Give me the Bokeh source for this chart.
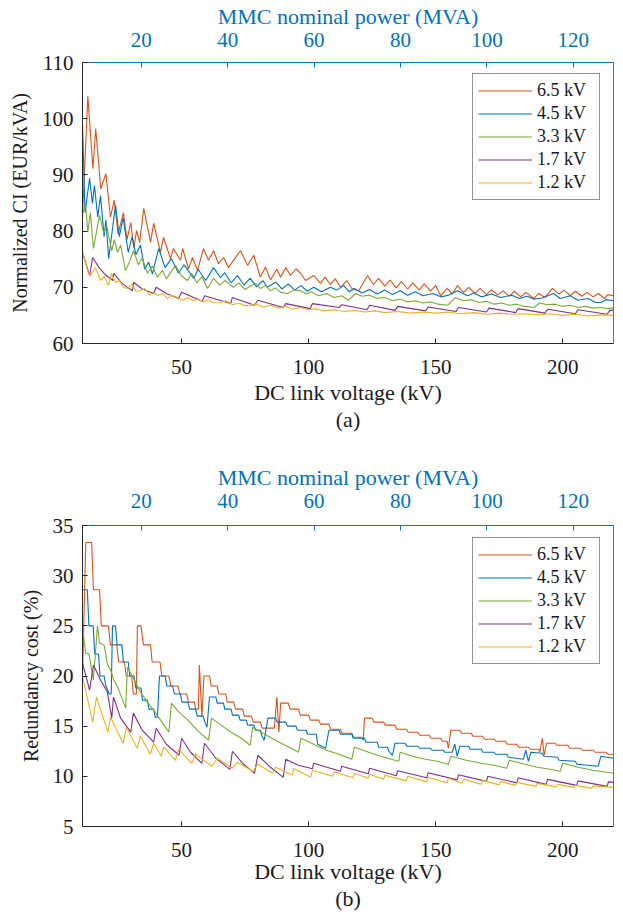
from bokeh.plotting import figure
from bokeh.models import Range1d, LinearAxis, FixedTicker, Legend, LegendItem, Title
from bokeh.layouts import column
from bokeh.embed import file_html
from bokeh.resources import INLINE

FONT = "Liberation Serif"
BLUE_AX = "#0072BD"
DARK = "#262626"

labels = ["6.5 kV", "4.5 kV", "3.3 kV", "1.7 kV", "1.2 kV"]
colors = ["#D95319", "#0072BD", "#77AC30", "#7E2F8E", "#EDB120"]

kv_ticks = [50, 100, 150, 200]
mva_ticks = [20, 40, 60, 80, 100, 120]
ci_ticks = [60, 70, 80, 90, 100, 110]
red_ticks = [5, 10, 15, 20, 25, 30, 35]

# ---------- (a) Normalized CI (EUR/kVA) vs DC link voltage (kV) ----------
ci_65 = [(11, 82.4), (13.1, 104.0), (15.1, 91.1), (16.2, 98.2), (18.2, 87.5), (20.2, 90.2), (22.0, 82.5),
         (23.5, 85.5), (25.0, 79.5), (27.1, 83.3), (28.5, 78.5), (30.0, 81.5), (31.2, 77.0), (32.3, 80.1),
         (33.5, 78.0), (35.1, 84.0), (37.8, 78.0), (39.0, 81.4), (41.7, 76.2), (42.9, 78.9), (45.6, 75.1),
         (46.8, 76.9), (49.6, 74.8), (50.4, 76.9), (52.7, 73.3), (54.3, 75.3), (56.3, 73.0), (58.6, 76.9),
         (60.6, 74.8), (62.6, 76.5), (64.5, 74.2), (66.5, 75.3), (68.5, 73.5), (70.4, 74.8), (73.2, 76.5),
         (76.0, 73.9), (78.4, 75.7), (81.0, 71.8), (83.0, 73.6), (85.0, 71.3), (87.5, 73.2), (89.0, 71.8),
         (91.0, 73.5), (92.9, 72.1), (95.0, 73.3), (96.8, 72.5), (98.8, 71.2), (102.0, 72.1), (104.7, 70.7),
         (106.5, 71.8), (108.5, 70.5), (110.5, 71.5), (112.6, 70.0), (115.0, 71.2), (117.0, 69.8), (119.7, 69.4),
         (123.2, 72.1), (125.5, 70.5), (127.5, 71.6), (130.0, 70.2), (132.0, 71.3), (134.5, 69.9), (136.5, 71.0),
         (139.0, 69.7), (141.0, 70.8), (143.5, 69.5), (145.5, 70.6), (148.0, 69.3), (150.0, 70.3), (152.0, 68.5),
         (154.5, 69.8), (156.5, 68.8), (158.6, 70.3), (161.0, 69.1), (163.0, 70.0), (165.5, 68.9), (167.5, 69.8),
         (170.0, 68.7), (172.0, 69.6), (174.5, 68.6), (176.5, 69.4), (179.0, 68.4), (181.0, 69.3), (183.5, 68.3),
         (185.5, 69.1), (188.6, 68.0), (190.5, 68.9), (193.0, 68.2), (196.0, 69.8), (198.5, 68.8), (200.5, 69.5),
         (203.0, 68.5), (205.0, 69.3), (207.5, 68.4), (209.5, 69.1), (212.0, 68.3), (214.0, 68.9), (216.5, 68.0),
         (217.7, 68.7), (220.0, 68.5)]
ci_45 = [(11, 99.1), (12.0, 83.3), (13.8, 89.4), (14.9, 84.9), (15.7, 88.1), (17.0, 82.5), (18.1, 86.3),
         (19.5, 79.0), (20.2, 82.0), (21.3, 75.1), (24.0, 84.6), (25.5, 79.0), (27.0, 82.4), (29.0, 76.2),
         (30.5, 79.0), (32.0, 75.8), (33.8, 77.5), (35.5, 73.2), (37.0, 74.5), (38.5, 72.4), (41.0, 76.9),
         (43.5, 73.5), (46.0, 75.1), (48.8, 72.5), (51.0, 74.0), (54.8, 71.6), (56.5, 73.2), (59.5, 71.2),
         (62.6, 73.5), (65.3, 71.7), (67.0, 72.6), (69.5, 70.8), (72.0, 72.1), (74.5, 70.4), (77.0, 71.6),
         (79.5, 70.1), (82.0, 71.2), (83.7, 70.0), (87.0, 70.9), (89.5, 69.7), (92.0, 70.6), (94.5, 69.5),
         (97.0, 70.3), (99.5, 69.3), (102.0, 70.0), (105.0, 69.2), (108.6, 70.0), (111.0, 69.5), (113.8, 70.3),
         (116.0, 69.2), (118.0, 69.8), (121.0, 69.0), (124.0, 69.6), (127.0, 68.8), (130.0, 69.5), (133.0, 68.7),
         (136.0, 69.4), (139.0, 68.6), (142.0, 69.2), (145.0, 68.5), (149.0, 68.9), (152.0, 68.3), (155.0, 68.6),
         (158.6, 69.4), (162.6, 68.5), (165.0, 69.0), (168.0, 68.3), (172.0, 68.8), (175.6, 68.2), (180.0, 68.6),
         (183.0, 68.0), (186.0, 68.4), (188.6, 67.9), (192.0, 68.1), (196.4, 68.9), (199.0, 68.0), (203.0, 68.5),
         (206.0, 67.7), (210.0, 68.0), (213.0, 67.3), (215.0, 67.3), (217.0, 67.8), (220.0, 67.6)]
ci_33 = [(11, 83.0), (12.2, 84.9), (13.1, 79.8), (14.1, 83.3), (15.3, 76.9), (17.7, 82.8), (19.4, 79.6),
         (20.5, 81.0), (22.5, 76.5), (23.5, 78.5), (24.8, 76.2), (26.0, 77.5), (27.9, 73.0), (29.5, 74.5),
         (31.1, 76.5), (33.0, 74.0), (34.5, 75.2), (36.6, 72.5), (38.5, 73.8), (40.5, 71.8), (42.5, 73.0),
         (44.0, 71.5), (47.6, 73.9), (50.0, 72.0), (52.3, 71.2), (54.0, 72.5), (56.0, 70.8), (58.0, 71.9),
         (60.2, 69.8), (62.6, 71.6), (65.0, 70.4), (67.0, 71.2), (70.4, 70.0), (72.5, 70.8), (75.0, 69.6),
         (77.0, 70.2), (79.0, 70.7), (81.0, 69.8), (83.0, 70.3), (85.0, 69.4), (87.0, 69.9), (89.0, 69.1),
         (91.7, 68.9), (94.0, 69.5), (96.8, 69.4), (99.0, 68.8), (101.0, 69.2), (104.0, 68.5), (107.0, 68.9),
         (110.0, 68.2), (113.0, 68.5), (115.7, 67.7), (118.5, 68.9), (121.0, 68.4), (124.0, 68.6), (127.0, 68.0),
         (130.0, 68.2), (133.0, 67.6), (136.0, 67.9), (139.0, 67.4), (142.0, 67.6), (145.0, 67.2), (148.0, 67.4),
         (151.0, 67.0), (154.7, 66.8), (157.8, 68.2), (161.0, 67.6), (164.0, 67.8), (167.0, 67.3), (170.0, 67.5),
         (173.0, 67.0), (176.0, 67.2), (179.0, 66.8), (182.0, 67.0), (185.0, 66.6), (188.6, 66.4), (191.0, 67.2),
         (194.0, 66.9), (197.0, 67.0), (200.0, 66.6), (203.0, 66.8), (206.0, 66.4), (209.0, 66.6), (212.0, 66.3),
         (215.0, 66.4), (217.7, 66.2), (220.0, 66.3)]
ci_17 = [(11, 76.2), (13.8, 72.1), (15.0, 75.3), (17.5, 73.5), (20.0, 72.2), (23.0, 71.2), (23.3, 72.5),
         (26.5, 70.7), (30.7, 69.4), (31.1, 70.9), (34.5, 69.7), (39.0, 68.9), (40.0, 70.0), (44.0, 68.9),
         (48.8, 68.0), (50.0, 69.1), (58.2, 67.5), (59.0, 68.5), (69.3, 67.1), (70.0, 68.2), (78.7, 66.8),
         (80.0, 67.7), (90.0, 66.4), (91.0, 67.1), (100.6, 66.2), (101.5, 67.1), (112.0, 66.4), (113.0, 66.9),
         (123.0, 66.0), (124.0, 66.8), (134.0, 65.9), (135.0, 66.6), (146.0, 65.8), (147.0, 66.5), (158.0, 65.7),
         (159.0, 66.4), (170.0, 65.6), (171.0, 66.3), (181.5, 65.5), (182.5, 66.2), (193.0, 65.4), (194.0, 66.1),
         (205.0, 65.3), (206.0, 66.0), (217.5, 65.2), (218.5, 65.9), (220.0, 65.9)]
ci_12 = [(11, 76.2), (13.0, 73.0), (14.1, 72.1), (16.1, 73.5), (18.1, 71.2), (19.5, 72.0), (21.2, 70.3),
         (22.4, 72.5), (24.0, 70.8), (25.5, 71.2), (27.0, 70.0), (28.7, 69.8), (30.5, 70.6), (32.0, 69.3),
         (33.8, 69.4), (35.5, 69.8), (37.5, 68.6), (39.0, 69.2), (40.5, 68.5), (42.5, 68.9), (44.5, 68.0),
         (46.0, 68.6), (48.4, 68.2), (50.5, 67.7), (52.5, 68.2), (54.7, 67.6), (56.5, 67.9), (58.5, 67.4),
         (60.5, 67.8), (62.5, 67.2), (65.3, 67.3), (67.5, 67.6), (70.0, 66.9), (72.5, 67.2), (75.0, 66.7),
         (77.0, 66.8), (79.5, 67.0), (82.0, 66.5), (85.0, 66.8), (88.0, 66.3), (91.0, 66.6), (94.0, 66.1),
         (96.8, 66.4), (100.0, 66.0), (103.0, 66.2), (106.0, 65.8), (110.0, 66.0), (114.0, 65.7), (118.0, 65.9),
         (122.0, 65.6), (126.0, 65.8), (130.0, 65.5), (135.0, 65.7), (140.0, 65.4), (145.0, 65.6), (150.0, 65.4),
         (155.0, 65.6), (160.0, 65.3), (165.0, 65.5), (170.0, 65.2), (175.0, 65.4), (180.0, 65.2), (185.0, 65.3),
         (190.0, 65.1), (195.0, 65.3), (200.0, 65.0), (205.0, 65.2), (210.0, 64.9), (215.0, 65.1), (220.0, 65.0)]

# ---------- (b) Redundancy cost (%) vs DC link voltage (kV) ----------
rc_65 = [(11, 20.0), (12.3, 33.3), (14.6, 33.3), (15.3, 28.6), (17.7, 28.6), (18.4, 25.0), (21.2, 25.0),
         (22.0, 23.1), (24.5, 23.1), (25.2, 21.4), (27.5, 21.4), (28.2, 20.0), (30.4, 20.0), (31.0, 18.2),
         (32.2, 18.2), (32.6, 25.0), (34.0, 25.0), (35.0, 23.1), (37.8, 23.1), (38.4, 21.4), (41.5, 21.4),
         (42.2, 20.0), (45.0, 20.0), (45.8, 19.0), (48.6, 19.0), (49.3, 18.2), (52.0, 18.2), (52.7, 17.4),
         (55.0, 17.4), (55.6, 16.7), (56.6, 16.7), (57.0, 21.1), (58.0, 15.9), (58.8, 20.0), (61.0, 20.0),
         (61.7, 19.0), (64.0, 19.0), (64.7, 18.2), (67.4, 18.2), (68.0, 17.4), (70.5, 17.4), (71.2, 16.7),
         (74.0, 16.7), (74.7, 16.0), (77.5, 16.0), (78.2, 15.4), (81.0, 15.4), (81.7, 14.8), (86.5, 14.8),
         (87.5, 17.9), (88.3, 14.4), (89.0, 17.3), (92.0, 17.3), (92.7, 16.7), (96.0, 16.7), (96.7, 16.1),
         (100.0, 16.1), (100.7, 15.6), (104.0, 15.6), (104.7, 15.2), (108.0, 15.2), (108.7, 14.7), (112.5, 14.7),
         (113.2, 14.3), (117.0, 14.3), (117.7, 13.9), (120.8, 13.9), (121.5, 13.6), (122.0, 15.8), (125.0, 15.8),
         (125.7, 15.4), (129.5, 15.4), (130.2, 15.1), (134.0, 15.1), (134.7, 14.7), (138.5, 14.7), (139.2, 14.4),
         (143.0, 14.4), (143.7, 14.1), (147.5, 14.1), (148.2, 13.8), (152.0, 13.8), (152.7, 13.5), (154.5, 13.5),
         (155.0, 12.8), (156.0, 14.6), (159.5, 14.6), (160.2, 14.3), (164.0, 14.3), (164.7, 14.0), (168.5, 14.0),
         (169.2, 13.7), (173.0, 13.7), (173.7, 13.5), (177.5, 13.5), (178.2, 13.2), (182.0, 13.2), (182.7, 12.9),
         (186.5, 12.9), (187.2, 12.7), (190.5, 12.7), (191.0, 12.4), (192.0, 13.8), (192.7, 12.1), (193.7, 13.3),
         (197.0, 13.3), (197.7, 13.1), (202.0, 13.1), (202.7, 12.8), (207.0, 12.8), (207.7, 12.6), (212.0, 12.6),
         (212.7, 12.4), (217.0, 12.4), (217.7, 12.2), (220.0, 12.2)]
rc_45 = [(11, 28.6), (12.9, 28.6), (13.5, 25.0), (15.2, 25.0), (15.8, 22.2), (17.3, 22.2), (17.9, 20.0),
         (19.5, 20.0), (20.2, 19.0), (21.5, 18.2), (22.3, 18.2), (22.8, 25.0), (24.0, 25.0), (24.6, 23.1),
         (26.5, 23.1), (27.1, 21.4), (29.0, 21.4), (29.6, 20.0), (31.3, 20.0), (32.0, 18.8), (34.0, 18.8),
         (34.6, 17.6), (36.5, 17.6), (37.2, 16.7), (39.0, 16.7), (39.6, 15.9), (40.5, 15.9), (41.3, 20.0),
         (43.5, 20.0), (44.2, 19.0), (46.5, 19.0), (47.2, 18.2), (49.5, 18.2), (50.2, 17.4), (52.5, 17.4),
         (53.2, 16.7), (55.5, 16.7), (56.2, 16.0), (58.5, 16.0), (59.2, 15.4), (60.0, 14.9), (61.0, 17.9),
         (63.5, 17.9), (64.0, 17.3), (66.5, 17.3), (67.0, 16.7), (69.5, 16.7), (70.0, 16.1), (72.5, 16.1),
         (73.0, 15.6), (75.5, 15.6), (76.0, 15.1), (78.5, 15.1), (79.0, 14.6), (81.0, 14.6), (81.5, 14.1),
         (82.5, 13.6), (84.0, 15.8), (87.0, 15.8), (87.6, 15.4), (91.0, 15.4), (91.6, 15.0), (95.0, 15.0),
         (95.6, 14.6), (99.0, 14.6), (99.6, 14.2), (103.0, 14.2), (103.6, 13.2), (106.7, 12.8), (108.0, 14.6),
         (112.0, 14.6), (112.6, 14.2), (117.0, 14.2), (117.6, 13.8), (122.0, 13.8), (122.6, 13.4), (127.0, 13.4),
         (127.6, 12.9), (131.0, 12.9), (131.6, 12.5), (133.0, 12.1), (134.0, 13.3), (138.0, 13.3), (138.6, 13.0),
         (143.0, 13.0), (143.6, 12.8), (148.0, 12.8), (148.6, 12.6), (153.0, 12.6), (153.6, 12.4), (156.5, 12.4),
         (157.5, 13.2), (158.5, 12.0), (159.5, 13.0), (163.0, 13.0), (163.6, 12.7), (168.0, 12.7), (168.6, 12.4),
         (173.0, 12.4), (173.6, 12.2), (178.0, 12.2), (178.6, 11.9), (184.5, 11.7), (185.5, 12.6), (186.5, 11.5),
         (187.5, 12.4), (192.0, 12.3), (192.6, 12.0), (198.0, 11.9), (198.6, 11.6), (205.0, 11.5), (205.6, 11.2),
         (214.0, 11.0), (215.0, 12.0), (220.0, 11.8)]
rc_33 = [(11, 25.0), (12.2, 22.3), (13.5, 22.2), (15.3, 19.6), (16.9, 25.0), (17.7, 23.3), (19.5, 23.1),
         (20.8, 21.2), (22.2, 20.5), (23.3, 19.6), (25.0, 18.8), (26.5, 17.8), (28.0, 16.8), (28.7, 20.9),
         (31.0, 19.8), (33.8, 18.4), (36.5, 17.4), (39.0, 16.6), (42.0, 15.5), (45.0, 14.4), (46.0, 17.3),
         (49.0, 16.4), (52.5, 15.6), (56.5, 14.5), (60.6, 13.6), (61.8, 15.8), (65.5, 15.1), (69.5, 14.4),
         (73.5, 13.8), (77.0, 13.1), (78.0, 14.9), (82.0, 14.3), (87.0, 13.6), (91.5, 13.0), (96.0, 12.4),
         (97.0, 13.8), (102.0, 13.2), (107.0, 12.6), (112.0, 12.2), (117.0, 11.7), (118.0, 12.9), (122.5, 12.5),
         (127.0, 12.1), (131.0, 11.8), (135.5, 11.5), (136.0, 12.4), (141.0, 12.0), (146.0, 11.7), (150.5, 11.5),
         (155.0, 11.2), (156.0, 12.0), (162.0, 11.6), (168.0, 11.3), (173.0, 11.1), (178.0, 10.8), (179.0, 11.6),
         (185.0, 11.2), (190.0, 10.9), (195.0, 10.7), (199.0, 10.5), (200.0, 11.3), (206.0, 10.9), (212.0, 10.6),
         (220.0, 10.3)]
rc_17 = [(11, 21.3), (13.8, 18.6), (15.3, 21.1), (18.1, 19.6), (20.8, 18.4), (22.5, 15.8), (23.2, 17.9),
         (26.0, 15.8), (30.0, 14.4), (31.0, 16.3), (34.5, 14.6), (39.0, 13.4), (40.0, 14.8), (44.0, 13.2),
         (49.0, 12.1), (50.0, 13.8), (53.5, 12.4), (58.0, 11.3), (59.0, 13.3), (63.5, 11.8), (69.0, 10.7),
         (70.0, 12.5), (74.0, 11.3), (78.7, 10.3), (80.0, 12.1), (85.0, 10.9), (90.0, 9.9), (91.0, 11.7),
         (96.0, 11.1), (101.5, 10.75), (102.0, 11.3), (112.5, 10.5), (113.0, 11.0), (123.5, 10.25), (124.0, 10.8),
         (134.5, 10.05), (135.0, 10.55), (146.5, 9.85), (147.0, 10.35), (158.5, 9.65), (159.0, 10.15),
         (170.0, 9.5), (170.5, 10.0), (182.0, 9.35), (182.5, 9.85), (193.5, 9.2), (194.0, 9.7), (205.5, 9.1),
         (206.0, 9.55), (217.5, 9.0), (218.0, 9.45), (220.0, 9.4)]
rc_12 = [(11, 20.0), (15.0, 15.4), (16.5, 17.9), (21.0, 14.4), (22.0, 15.9), (27.0, 13.3), (28.3, 14.9),
         (32.5, 12.8), (33.8, 14.0), (37.7, 12.2), (39.0, 13.3), (42.0, 12.0), (43.0, 12.9), (47.6, 11.6),
         (48.8, 12.7), (54.0, 11.3), (55.5, 12.2), (62.0, 11.0), (64.0, 11.8), (70.0, 10.8), (72.0, 11.4),
         (78.0, 10.5), (80.0, 11.2), (85.8, 10.3), (87.0, 10.9), (93.7, 10.1), (94.0, 10.8), (100.8, 9.9),
         (101.5, 10.6), (109.5, 10.0), (110.0, 10.45), (117.5, 9.85), (118.0, 10.3), (123.5, 9.8), (124.0, 10.2),
         (129.5, 9.7), (130.0, 10.1), (138.5, 9.55), (139.0, 10.0), (146.5, 9.45), (147.0, 9.9), (154.5, 9.35),
         (155.0, 9.8), (160.5, 9.3), (161.0, 9.7), (168.0, 9.2), (168.5, 9.6), (175.0, 9.15), (175.6, 9.5),
         (181.5, 9.1), (182.0, 9.4), (189.5, 9.0), (190.0, 9.3), (197.5, 8.95), (198.0, 9.2), (204.5, 8.9),
         (205.0, 9.1), (211.5, 8.8), (212.0, 9.05), (220.0, 8.9)]


def style_figure(p, y_ticks, y_label, bt_standoff, bl_standoff, tt_standoff, title_standoff):
    p.xgrid.visible = False
    p.ygrid.visible = False
    p.outline_line_color = "#6e6e6e"
    p.outline_line_width = 1
    p.background_fill_color = "white"
    p.border_fill_color = "white"

    xa = p.xaxis[0]
    xa.ticker = FixedTicker(ticks=kv_ticks)
    xa.axis_label = "DC link voltage (kV)"
    ya = p.yaxis[0]
    ya.ticker = FixedTicker(ticks=y_ticks)
    ya.axis_label = y_label
    for ax in (xa, ya):
        ax.axis_line_color = DARK
        ax.major_tick_line_color = DARK
        ax.major_tick_in = 5
        ax.major_tick_out = 0
        ax.minor_tick_line_color = None
        ax.major_label_text_font = FONT
        ax.major_label_text_font_size = "21px"
        ax.major_label_text_color = "#1a1a1a"
        ax.axis_label_text_font = FONT
        ax.axis_label_text_font_style = "normal"
        ax.axis_label_text_color = "#1a1a1a"
    xa.axis_label_text_font_size = "22px"
    ya.axis_label_text_font_size = "20px"
    xa.major_label_standoff = bt_standoff
    xa.axis_label_standoff = bl_standoff
    ya.major_label_standoff = 9
    ya.axis_label_standoff = 8

    top = LinearAxis(x_range_name="mva", ticker=FixedTicker(ticks=mva_ticks))
    top.axis_line_color = BLUE_AX
    top.axis_line_width = 1.2
    top.major_tick_line_color = BLUE_AX
    top.major_tick_in = 5
    top.major_tick_out = 0
    top.minor_tick_line_color = None
    top.major_label_text_font = FONT
    top.major_label_text_font_size = "21px"
    top.major_label_text_color = BLUE_AX
    top.major_label_standoff = tt_standoff
    p.add_layout(top, "above")
    # title of the top (MVA) axis, stacked above that axis
    p.add_layout(Title(text="MMC nominal power (MVA)", align="center", text_font=FONT,
                       text_font_size="22px", text_font_style="normal", text_color=BLUE_AX,
                       standoff=title_standoff), "above")


def draw_series(p, series, legend_xy):
    items = []
    for data, lab, col in zip(series, labels, colors):
        xs = [d[0] for d in data]
        ys = [d[1] for d in data]
        r = p.line(xs, ys, line_color=col, line_width=1.1)
        items.append(LegendItem(label=lab, renderers=[r]))
    leg = Legend(items=items, location=legend_xy)
    leg.label_text_font = FONT
    leg.label_text_font_size = "18px"
    leg.label_text_color = "#1a1a1a"
    leg.glyph_width = 54
    leg.glyph_height = 23
    leg.label_height = 23
    leg.label_width = 57
    leg.label_standoff = 5
    leg.padding = 5
    leg.spacing = 0
    leg.border_line_color = DARK
    leg.border_line_width = 1
    leg.background_fill_color = "white"
    leg.background_fill_alpha = 1
    p.add_layout(leg)


W = 623

p1 = figure(width=W, height=445, x_range=Range1d(11, 220), y_range=Range1d(60, 110),
            output_backend="svg", toolbar_location=None,
            min_border_left=82, min_border_right=10, min_border_top=62, min_border_bottom=102)
p1.extra_x_ranges = {"mva": Range1d(6.4, 129.3)}
style_figure(p1, ci_ticks, "Normalized CI (EUR/kVA)", 16, 3, 16, 2)
draw_series(p1, [ci_65, ci_45, ci_33, ci_17, ci_12], (390, 143))
p1.add_layout(Title(text="(a)", align="center", text_font=FONT, text_font_size="22px",
                    text_font_style="normal", text_color="#1a1a1a", standoff=-5), "below")

p2 = figure(width=W, height=467, x_range=Range1d(11, 220), y_range=Range1d(5, 35),
            output_backend="svg", toolbar_location=None,
            min_border_left=82, min_border_right=10, min_border_top=80, min_border_bottom=86)
p2.extra_x_ranges = {"mva": Range1d(6.4, 129.3)}
style_figure(p2, red_ticks, "Redundancy cost (%)", 16, -1, 18, 2)
draw_series(p2, [rc_65, rc_45, rc_33, rc_17, rc_12], (390, 162))
p2.add_layout(Title(text="(b)", align="center", text_font=FONT, text_font_size="22px",
                    text_font_style="normal", text_color="#1a1a1a", standoff=-5), "below")

layout = column(p1, p2, spacing=0)
open("out.html", "w").write(file_html(layout, INLINE))
